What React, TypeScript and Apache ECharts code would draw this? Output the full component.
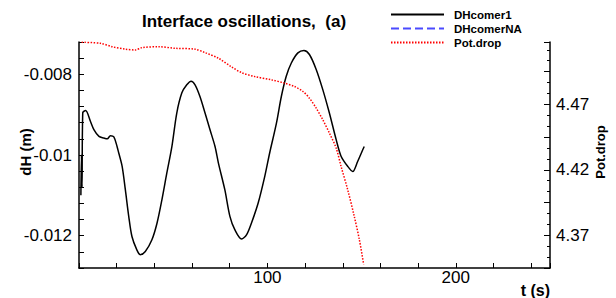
import React, { useEffect, useRef } from "react";
import * as echarts from "echarts";

const seriesNames = ["DHcomer1", "DHcomerNA", "Pot.drop"];

// DHcomer1: [t (s), dH (m)]
const dhTime = [
  1.0, 1.3, 1.6, 2.0, 3.5, 6.1, 7.9, 10.6, 13.2, 15.0, 16.7, 18.5, 20.2, 21.1, 22.9, 24.6,
  26.4, 28.1, 30.7, 32.5, 35.2, 38.7, 41.4, 44.0, 46.6, 49.3, 51.9, 54.6, 57.2, 59.5, 61.6,
  64.2, 66.9, 69.5, 72.2, 74.0, 77.4, 80.1, 82.7, 86.3, 88.9, 91.5, 95.1, 98.6, 101.2,
  104.8, 107.4, 110.0, 112.7, 116.2, 119.4, 122.3, 125.9, 129.4, 132.9, 136.5, 139.1,
  142.6, 145.3, 147.9, 150.6, 151.4,
];
const dhValues = [
  -0.0110, -0.0100, -0.0108, -0.00895, -0.0089, -0.00917, -0.00937, -0.00954, -0.00958,
  -0.0096, -0.00952, -0.00955, -0.00979, -0.00995, -0.01028, -0.01086, -0.01152, -0.01202,
  -0.01235, -0.01247, -0.01239, -0.0121, -0.01169, -0.01111, -0.01045, -0.00979, -0.00896,
  -0.00846, -0.00826, -0.00817, -0.00826, -0.00855, -0.00896, -0.00937, -0.00979, -0.0102,
  -0.01086, -0.01152, -0.01185, -0.01208, -0.01198, -0.01169, -0.01119, -0.01053, -0.00995,
  -0.00921, -0.00855, -0.00805, -0.00772, -0.00747, -0.00741, -0.00751, -0.00788, -0.00838,
  -0.00896, -0.00962, -0.01003, -0.01028, -0.01041, -0.01016, -0.00987, -0.00979,
];

// DHcomerNA: no visible data
const naTime: number[] = [];
const naValues: number[] = [];

// Pot.drop: [t (s), value]
const potTime = [
  1.4, 11.4, 17.6, 24.6, 29.9, 33.4, 42.3, 51.0, 61.6, 66.9, 74.0, 81.0, 86.3, 93.3, 102.1,
  109.1, 114.4, 118.9, 122.3, 125.9, 129.4, 132.9, 136.5, 139.1, 142.6, 146.1, 148.8, 151.1,
];
const potValues = [
  4.5174, 4.5166, 4.514, 4.5121, 4.5115, 4.5133, 4.514, 4.5128, 4.5121, 4.5095, 4.5052,
  4.4986, 4.4942, 4.4912, 4.4887, 4.4862, 4.4836, 4.4798, 4.4747, 4.4671, 4.4582, 4.4481,
  4.4366, 4.4226, 4.4049, 4.3845, 4.3667, 4.3477,
];

const xLabels = [100, 200];
const leftLabels = [-0.012, -0.01, -0.008];
const rightLabels = [4.37, 4.42, 4.47];

const FONT = "'Liberation Sans', Arial, Helvetica, sans-serif";

const zip = (a: number[], b: number[]) => a.map((v, i) => [v, b[i]]);
const near = (v: number, list: number[], eps: number) => list.some((l) => Math.abs(l - v) < eps);

export default function App() {
  const ref = useRef<HTMLDivElement>(null);
  useEffect(() => {
    if (!ref.current) return;
    const chart = echarts.init(ref.current, null, { renderer: "svg" });
    chart.setOption({
      animation: false,
      backgroundColor: "#ffffff",
      textStyle: { fontFamily: FONT },
      title: {
        text: "Interface oscillations,  (a)",
        left: 142,
        top: 13,
        padding: 0,
        textStyle: { fontFamily: FONT, fontSize: 17, fontWeight: "bold", color: "#000" },
      },
      legend: {
        orient: "vertical",
        left: 390,
        top: 8,
        padding: 0,
        itemGap: 1,
        itemWidth: 53,
        itemHeight: 13,
        data: seriesNames.map((n) => ({ name: n })),
        itemStyle: { opacity: 0, color: "rgba(0,0,0,0)", borderWidth: 0 },
        textStyle: {
          fontFamily: FONT,
          fontSize: 11.5,
          fontWeight: "bold",
          color: "#000",
          lineHeight: 13,
          padding: [0, 0, 0, 5],
        },
      },
      grid: {
        left: 79,
        right: 66,
        top: 42,
        bottom: 30,
        containLabel: false,
        outerBoundsMode: "none",
      },
      xAxis: {
        type: "value",
        min: 0,
        max: 250,
        interval: 20,
        splitLine: { show: false },
        axisLine: { show: true, lineStyle: { color: "#000", width: 1.5 } },
        axisTick: { show: true, inside: true, length: 5, lineStyle: { color: "#000", width: 1 } },
        axisLabel: {
          margin: 1,
          fontSize: 17,
          color: "#000",
          fontFamily: FONT,
          formatter: (v: number) => (near(v, xLabels, 1e-6) ? String(v) : ""),
        },
      },
      yAxis: [
        {
          type: "value",
          position: "left",
          min: -0.0128,
          max: -0.0072,
          interval: 0.0004,
          splitLine: { show: false },
          axisLine: { show: true, lineStyle: { color: "#000", width: 1.5 } },
          axisTick: { show: true, inside: true, length: 5, lineStyle: { color: "#000", width: 1 } },
          axisLabel: {
            margin: 7,
            fontSize: 17,
            color: "#000",
            fontFamily: FONT,
            formatter: (v: number) => {
              const hit = leftLabels.find((l) => Math.abs(l - v) < 1e-7);
              return hit !== undefined ? String(hit) : "";
            },
          },
        },
        {
          type: "value",
          position: "right",
          min: 4.345,
          max: 4.5176,
          interval: 0.025,
          splitLine: { show: false },
          axisLine: { show: true, lineStyle: { color: "#000", width: 1.5 } },
          axisTick: { show: true, inside: true, length: 6, lineStyle: { color: "#000", width: 1 } },
          minorTick: { show: true, splitNumber: 3, length: 3, lineStyle: { color: "#000", width: 1 } },
          minorSplitLine: { show: false },
          axisLabel: {
            margin: 6,
            fontSize: 17,
            color: "#000",
            fontFamily: FONT,
            formatter: (v: number) => {
              const hit = rightLabels.find((l) => Math.abs(l - v) < 1e-6);
              return hit !== undefined ? hit.toFixed(2) : "";
            },
          },
        },
      ],
      graphic: [
        {
          type: "text",
          right: 66,
          top: 282,
          style: { text: "t (s)", font: `bold 16px ${FONT}`, fill: "#000" },
        },
        {
          type: "text",
          x: 25,
          y: 152,
          rotation: Math.PI / 2,
          style: {
            text: "dH (m)",
            font: `bold 15px ${FONT}`,
            fill: "#000",
            align: "center",
            verticalAlign: "middle",
          },
        },
        {
          type: "text",
          x: 600,
          y: 152,
          rotation: Math.PI / 2,
          style: {
            text: "Pot.drop",
            font: `bold 13px ${FONT}`,
            fill: "#000",
            align: "center",
            verticalAlign: "middle",
          },
        },
      ],
      series: [
        {
          name: seriesNames[0],
          type: "line",
          yAxisIndex: 0,
          data: zip(dhTime, dhValues),
          symbol: "none",
          smooth: 0.3,
          lineStyle: { color: "#000", width: 1.5, type: "solid" },
          itemStyle: { color: "#000" },
        },
        {
          name: seriesNames[1],
          type: "line",
          yAxisIndex: 0,
          data: zip(naTime, naValues),
          symbol: "none",
          lineStyle: { color: "#4a4aff", width: 2, type: [8, 4] },
          itemStyle: { color: "#4a4aff" },
        },
        {
          name: seriesNames[2],
          type: "line",
          yAxisIndex: 1,
          data: zip(potTime, potValues),
          symbol: "none",
          smooth: 0.3,
          lineStyle: { color: "#ff0000", width: 1.5, type: [1.5, 1.5] },
          itemStyle: { color: "#ff0000" },
        },
      ],
    });
    return () => chart.dispose();
  }, []);
  return (
    <div
      ref={ref}
      style={{ position: "fixed", left: 0, top: 0, width: 616, height: 298, background: "#fff" }}
    />
  );
}
